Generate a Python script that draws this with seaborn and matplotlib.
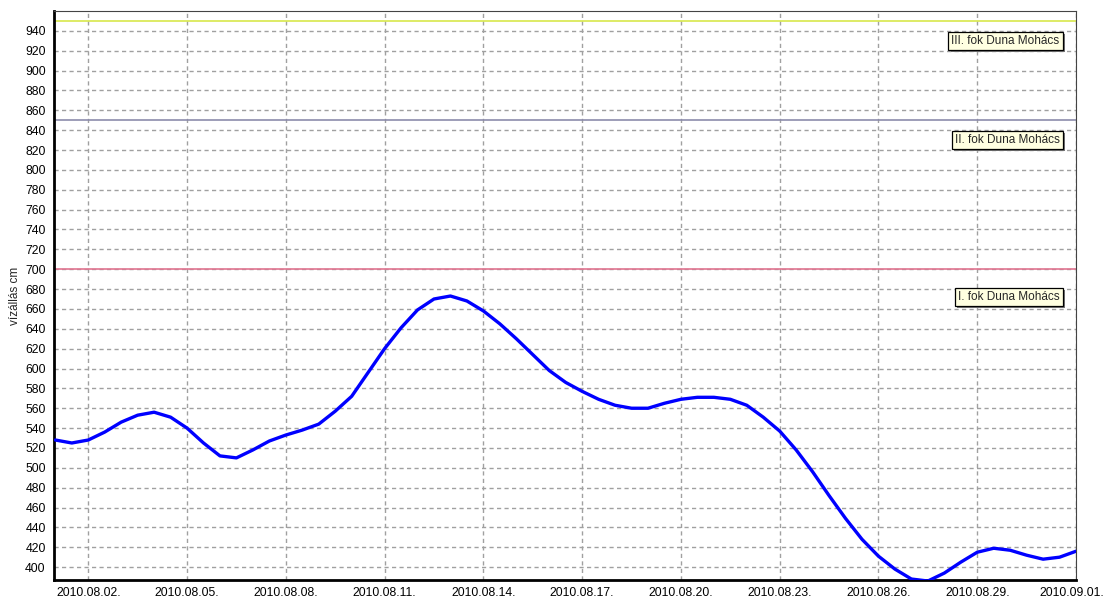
import pandas as pd
import numpy as np
import matplotlib.pyplot as plt
import matplotlib.dates as mdates
import matplotlib.patheffects as pe
import matplotlib.transforms as mtransforms
import seaborn as sns

# water level readings (every 12 hours)
times = pd.date_range('2010-08-01 00:00', '2010-09-01 00:00', freq='12h')
levels = [528, 525, 528, 536, 546, 553, 556, 551, 540, 525,
          512, 510, 518, 527, 533, 538, 544, 557, 572, 596,
          620, 641, 659, 670, 673, 668, 658, 645, 630, 614,
          598, 586, 577, 569, 563, 560, 560, 565, 569, 571,
          571, 569, 563, 551, 537, 518, 496, 472, 449, 428,
          411, 398, 388, 386, 394, 405, 415, 419, 417, 412,
          408, 410, 416]

# alert levels
alert_values = [950, 850, 700]
alert_labels = ['III. fok Duna Mohács', 'II. fok Duna Mohács', 'I. fok Duna Mohács']
alert_colors = ['#d8e84c', '#8c8cac', '#e07490']
label_y = [930, 830, 672]

df = pd.DataFrame({'time': times, 'level': levels})

sns.set_style('white')
plt.rcParams['font.family'] = ['Liberation Sans', 'DejaVu Sans']

fig = plt.figure(figsize=(11.06, 6.02), dpi=100)
ax = fig.add_axes([0.0488, 0.0365, 0.9241, 0.9452])

for val, col in zip(alert_values, alert_colors):
    ax.axhline(val, color=col, lw=1.2, zorder=2)

sns.lineplot(data=df, x='time', y='level', color='#0000ff', lw=2.4, ax=ax, zorder=3)

ax.set_yticks(np.arange(400, 941, 20))
major = pd.date_range('2010-08-02', '2010-09-01', freq='3D')
ax.set_xticks(major)
ax.set_xticks(pd.date_range('2010-08-01 06:00', '2010-09-01', freq='18h'), minor=True)
ax.xaxis.set_major_formatter(mdates.DateFormatter('%Y.%m.%d.'))

ax.set_xlim(pd.Timestamp('2010-07-31 23:00'), pd.Timestamp('2010-09-01 00:00'))
ax.set_ylim(387, 960)

ax.grid(True, which='major', color='#a0a0a0', linestyle=(0, (3, 2.4)), lw=1)
ax.tick_params(axis='both', which='both', direction='out', labelsize=8.8, length=4, width=1, colors='black')
ax.tick_params(axis='y', pad=2)
ax.tick_params(axis='x', pad=1)
ax.tick_params(axis='x', which='minor', length=3)

# keep the last date label inside the image
last = ax.get_xticklabels()[-1]
last.set_transform(last.get_transform() + mtransforms.ScaledTranslation(-4 / 100, 0, fig.dpi_scale_trans))

for side in ['top', 'right']:
    ax.spines[side].set_color('#444444')
    ax.spines[side].set_linewidth(0.8)
for side in ['left', 'bottom']:
    ax.spines[side].set_color('black')
    ax.spines[side].set_linewidth(2)

ax.set_xlabel('')
ax.set_ylabel('vízállás cm', fontsize=8.5, labelpad=3)

label_x = pd.Timestamp('2010-08-31 12:00')
for txt, yv in zip(alert_labels, label_y):
    t = ax.text(label_x, yv, txt, fontsize=8.5, ha='right', va='center', zorder=5,
                bbox=dict(boxstyle='square,pad=0.25', fc='#ffffe1', ec='black', lw=0.9))
    t.get_bbox_patch().set_path_effects([pe.withSimplePatchShadow(offset=(1.5, -1.5), shadow_rgbFace='#777777', alpha=1)])

plt.savefig('out.png', dpi=100)
plt.close()
